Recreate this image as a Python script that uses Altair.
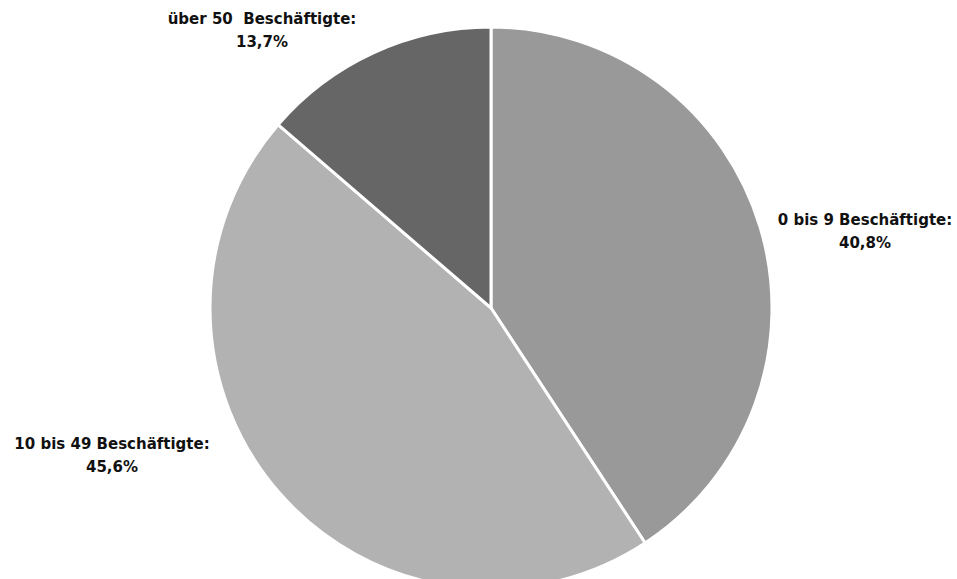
import altair as alt
import pandas as pd

categories = ["0 bis 9 Beschäftigte:", "10 bis 49 Beschäftigte:", "über 50\u00a0 Beschäftigte:"]
shares = [40.8, 45.6, 13.7]
share_labels = ["40,8%", "45,6%", "13,7%"]
colors = ["#999999", "#b2b2b2", "#666666"]

df = pd.DataFrame({
    "cat": categories,
    "share": shares,
    "pct": share_labels,
    "order": list(range(len(categories))),
})
df["label"] = df["cat"] + "\n" + df["pct"]

CX, CY, R = 491, 308, 281

base = alt.Chart(df)

pie = base.mark_arc(outerRadius=R, stroke="white", strokeWidth=3).encode(
    theta=alt.Theta("share:Q", stack=True),
    order=alt.Order("order:Q"),
    color=alt.Color("cat:N", scale=alt.Scale(domain=categories, range=colors), legend=None),
    x=alt.value(CX),
    y=alt.value(CY),
)

label_pos = {categories[0]: (865, 220), categories[1]: (112, 444), categories[2]: (262, 19)}

layers = [pie]
for c in categories:
    px, py = label_pos[c]
    layers.append(
        base.transform_filter(alt.datum.cat == c).mark_text(
            font="DejaVu Sans", fontWeight="bold", fontSize=15, lineBreak="\n",
            align="center", baseline="middle", lineHeight=23, color="#111111",
        ).encode(text="label:N", x=alt.value(px), y=alt.value(py))
    )

chart = alt.layer(*layers).properties(
    width=957, height=579, autosize=alt.AutoSizeParams(type="none"), padding=0,
).configure_view(stroke=None)

chart.save("out.html", embed_options={"renderer": "svg", "actions": False})
